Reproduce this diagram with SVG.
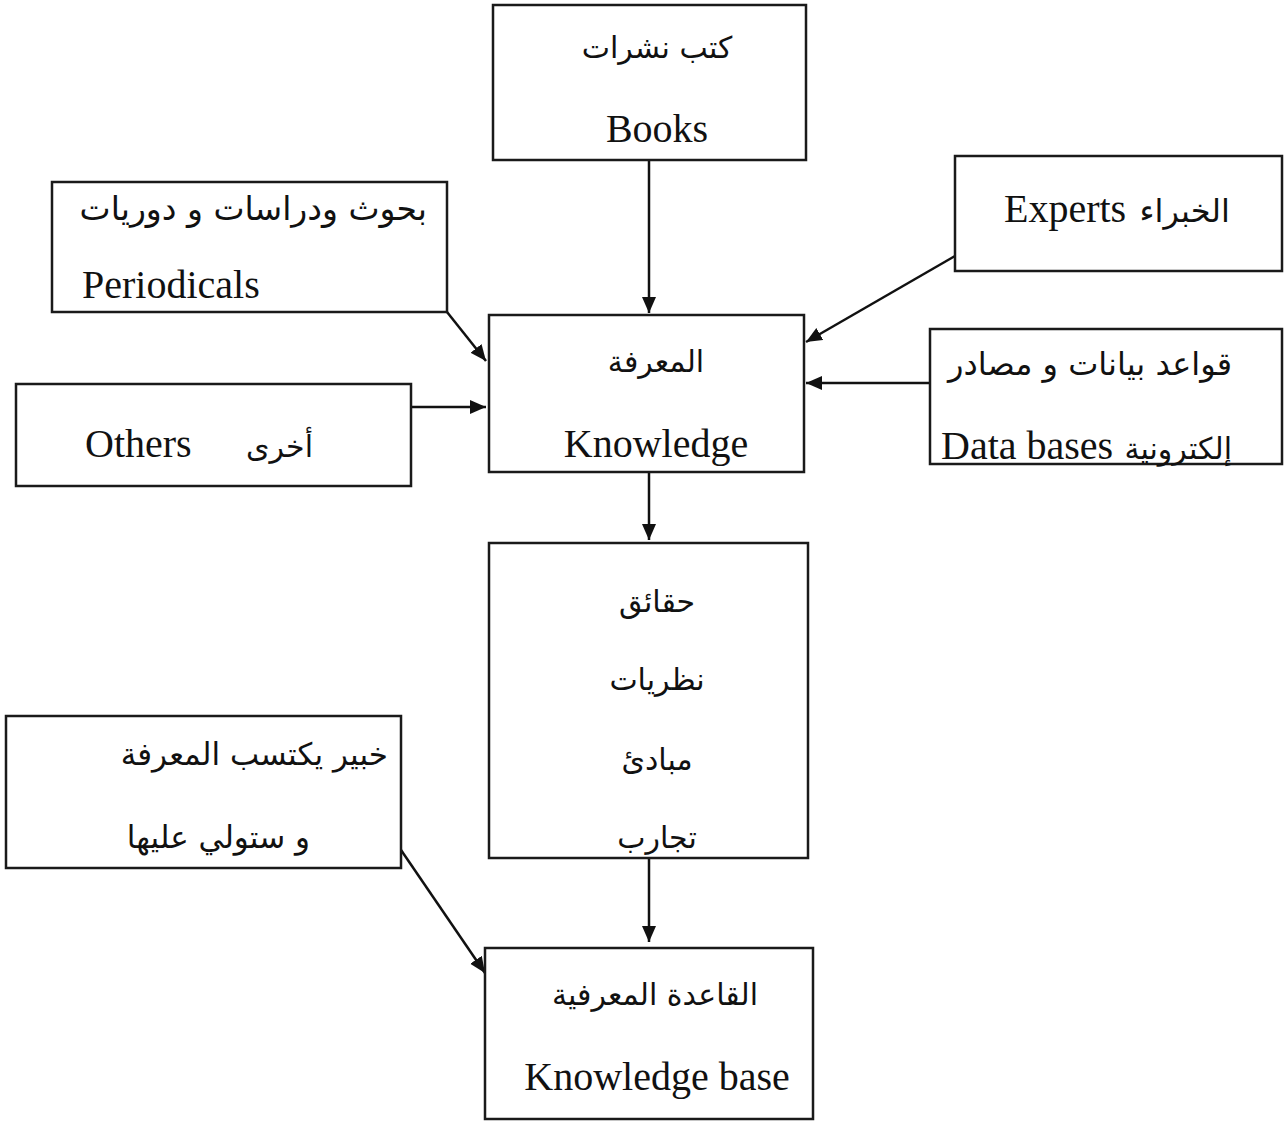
<svg xmlns="http://www.w3.org/2000/svg" width="1287" height="1122" viewBox="0 0 1287 1122">
<style>
.box{fill:#fff;stroke:#1a1a1a;stroke-width:2.5}
.en{font-family:"Liberation Serif","Times New Roman",serif;font-size:40px;fill:#111}
.ar{font-family:"DejaVu Sans","Noto Sans",sans-serif;font-size:32px;fill:#111}
.ars{font-family:"DejaVu Serif","DejaVu Sans",serif;font-size:30px;fill:#111}
.c{stroke:#111;stroke-width:2.5;fill:none;marker-end:url(#ah)}
</style>
<defs>
<marker id="ah" markerUnits="userSpaceOnUse" markerWidth="18" markerHeight="16" refX="16" refY="7" orient="auto">
<path d="M0,0 L16,7 L0,14 Z" fill="#111"/>
</marker>
</defs>
<rect width="1287" height="1122" fill="#fff"/>
<g id="connectors">
<line class="c" x1="649" y1="160" x2="649" y2="313"/>
<line class="c" x1="447" y1="312" x2="486" y2="361"/>
<line class="c" x1="411" y1="407" x2="486" y2="407"/>
<line class="c" x1="955" y1="256" x2="806" y2="342"/>
<line class="c" x1="930" y1="383" x2="806" y2="383"/>
<line class="c" x1="649" y1="472" x2="649" y2="540"/>
<line class="c" x1="649" y1="858" x2="649" y2="942"/>
<line class="c" x1="401" y1="850" x2="485" y2="973"/>
</g>
<g id="books">
<rect class="box" x="493" y="5" width="313" height="155"/>
<text class="ars" x="657" y="58" text-anchor="middle">كتب نشرات</text>
<text class="en" x="657" y="142" text-anchor="middle">Books</text>
</g>
<g id="periodicals">
<rect class="box" x="52" y="182" width="395" height="130"/>
<text class="ar" x="427" y="220" text-anchor="end" style="font-size:33px">بحوث ودراسات و دوريات</text>
<text class="en" x="82" y="298">Periodicals</text>
</g>
<g id="experts">
<rect class="box" x="955" y="156" width="327" height="115"/>
<text class="en" x="1004" y="222">Experts</text>
<text class="ars" x="1230" y="222" text-anchor="end" style="font-size:32px">الخبراء</text>
</g>
<g id="knowledge">
<rect class="box" x="489" y="315" width="315" height="157"/>
<text class="ars" x="656" y="372" text-anchor="middle">المعرفة</text>
<text class="en" x="656" y="457" text-anchor="middle">Knowledge</text>
</g>
<g id="databases">
<rect class="box" x="930" y="329" width="352" height="135"/>
<text class="ar" x="1232" y="375" text-anchor="end">قواعد بيانات و مصادر</text>
<text class="en" x="941" y="459">Data bases</text>
<text class="ar" x="1232" y="459" text-anchor="end" style="font-size:30px">إلكترونية</text>
</g>
<g id="others">
<rect class="box" x="16" y="384" width="395" height="102"/>
<text class="en" x="85" y="457">Others</text>
<text class="ars" x="313" y="457" text-anchor="end">أخرى</text>
</g>
<g id="facts">
<rect class="box" x="489" y="543" width="319" height="315"/>
<text class="ars" x="657" y="612" text-anchor="middle">حقائق</text>
<text class="ars" x="657" y="690" text-anchor="middle">نظريات</text>
<text class="ars" x="657" y="770" text-anchor="middle">مبادئ</text>
<text class="ars" x="657" y="848" text-anchor="middle">تجارب</text>
</g>
<g id="expert">
<rect class="box" x="6" y="716" width="395" height="152"/>
<text class="ar" x="388" y="765" text-anchor="end" style="font-size:31px">خبير يكتسب المعرفة</text>
<text class="ar" x="310" y="848" text-anchor="end" style="font-size:31px">و ستولي عليها</text>
</g>
<g id="kb">
<rect class="box" x="485" y="948" width="328" height="171"/>
<text class="ars" x="655" y="1005" text-anchor="middle">القاعدة المعرفية</text>
<text class="en" x="657" y="1090" text-anchor="middle">Knowledge base</text>
</g>
</svg>
